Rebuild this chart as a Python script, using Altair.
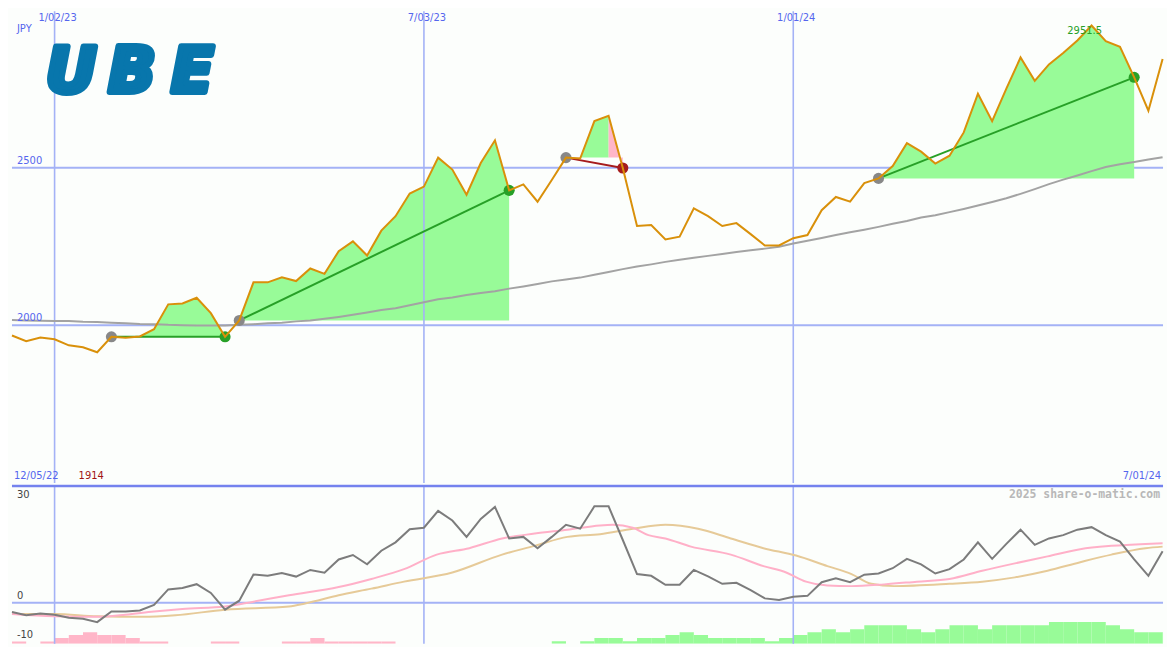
import altair as alt
import pandas as pd

# ---------------- data (weekly, week 0 = 12/12/22 ... week 81 = 7/01/24) ----------------
start_label = "12/05/22"
end_label = "7/01/24"
grid_weeks = [3, 29, 55]
grid_labels = ["1/02/23", "7/03/23", "1/01/24"]
price_grid = [2000, 2500]
price_grid_labels = ["2000", "2500"]
max_label = "2951.5"
min_label = "1914"

price = [1967, 1949, 1961, 1955, 1936, 1930, 1914, 1963, 1960, 1964,
         1987, 2066, 2069, 2087, 2038, 1963, 2015, 2136, 2136, 2152,
         2140, 2180, 2163, 2235, 2266, 2221, 2300, 2346, 2418, 2440,
         2532, 2494, 2414, 2515, 2587, 2428, 2447, 2392, 2461, 2532,
         2529, 2648, 2665, 2499, 2315, 2318, 2272, 2281, 2371, 2346,
         2315, 2324, 2289, 2253, 2253, 2276, 2286, 2365, 2407, 2392,
         2451, 2466, 2505, 2578, 2551, 2513, 2538, 2612, 2735, 2648,
         2751, 2850, 2776, 2828, 2864, 2904, 2951.5, 2902, 2884, 2787,
         2681, 2845]

ma = [2016, 2015, 2014, 2013, 2013, 2011, 2010, 2008, 2006, 2004,
      2003, 2001, 2000, 1999, 1999, 1999, 2001, 2003, 2006, 2008,
      2012, 2015, 2020, 2026, 2033, 2040, 2048, 2054, 2063, 2073,
      2082, 2088, 2096, 2102, 2108, 2116, 2123, 2131, 2139, 2145,
      2151, 2160, 2169, 2178, 2186, 2193, 2201, 2208, 2214, 2220,
      2226, 2232, 2238, 2243, 2249, 2259, 2268, 2277, 2286, 2295,
      2303, 2312, 2322, 2331, 2342, 2349, 2359, 2369, 2380, 2391,
      2403, 2417, 2432, 2448, 2462, 2475, 2489, 2502, 2511, 2518,
      2526, 2533]

mom = [-2.4, -3.25, -2.8, -3.1, -3.9, -4.15, -5.0, -2.25, -2.25, -2.0,
       -0.6, 3.4, 3.75, 4.75, 2.5, -1.8, 0.5, 7.25, 6.9, 7.6,
       6.7, 8.4, 7.7, 11.1, 12.25, 9.85, 13.35, 15.5, 18.85, 19.25,
       23.6, 21.1, 16.9, 21.5, 24.6, 16.5, 16.9, 14.0, 16.9, 20.0,
       19.0, 24.75, 24.75, 16.1, 7.35, 6.9, 4.6, 4.6, 8.4, 6.75,
       4.85, 5.1, 3.2, 1.1, 0.7, 1.5, 1.75, 5.25, 6.25, 5.25,
       7.2, 7.5, 8.85, 11.25, 9.85, 7.5, 8.6, 11.1, 15.5, 11.25,
       15.1, 18.75, 14.85, 16.5, 17.35, 18.75, 19.4, 17.35, 15.7, 11.1,
       6.9, 13.2]

pink_w = [0, 3, 6, 8, 10, 12, 15, 17, 19.5, 23, 25.3, 27.6, 29.9, 32.2, 34.5, 36.8,
          39.1, 41.4, 42.3, 43.7, 44.8, 46, 47.8, 50.6, 52.9, 54.5, 55.9, 57.4, 59.1,
          61.4, 63.7, 66, 68.3, 70.6, 72.9, 75.2, 77.4, 79.8, 81]
pink_v = [-2.9, -3.5, -3.65, -3.1, -2.25, -1.6, -1.0, 0.25, 1.9, 4.0, 6.1, 8.6, 12.35, 14.0,
          16.5, 17.75, 18.75, 19.85, 20.0, 19.25, 17.35, 16.5, 14.4, 12.35, 9.4, 7.75, 5.4,
          4.4, 4.25, 4.7, 5.4, 6.1, 8.2, 10.1, 11.9, 13.75, 14.6, 15.1, 15.25]

tan_w = [0, 3, 6, 9.2, 11.5, 15, 19.5, 20.7, 23, 25.3, 27.6, 31, 34.5, 36.8, 39.1, 41.4,
         43.7, 46, 48.3, 50.6, 52.9, 55.2, 57.4, 59.1, 60.5, 62.1, 66, 68.3, 70.6, 72.9,
         75.2, 77.4, 79.8, 81]
tan_v = [-2.9, -2.9, -3.5, -3.65, -3.25, -1.8, -1.0, -0.15, 1.9, 3.6, 5.4, 7.75, 12.35, 14.6,
         16.9, 17.6, 19.0, 20.0, 19.0, 16.5, 14.0, 12.1, 9.4, 7.35, 4.85, 4.25, 4.85, 5.4,
         6.5, 8.2, 10.4, 12.35, 14.0, 14.4]

# strength bars at the foot of the lower panel (negative = pink, positive = green)
bars = [-2.3, 0, -2.3, -6, -9, -12, -9, -9, -6, -2.3,
        -2.3, 0, 0, 0, -2.3, -2.3, 0, 0, 0, -2.3,
        -2.3, -6, -2.3, -2.3, -2.3, -2.3, -2.3, 0, 0, 0,
        0, 0, 0, 0, 0, 0, 0, 0, 2.7, 0,
        2.7, 6, 6, 2.7, 6, 6, 9, 12, 9, 6,
        6, 6, 6, 2.7, 6, 9, 12, 15, 12, 15,
        19, 19, 19, 15, 12, 15, 19, 19, 15, 19,
        19, 19, 19, 22.3, 22.3, 22.3, 22.3, 19, 15, 12,
        12, 12]

trade_entry = [7, 16, 39, 61]
trade_exit = [15, 35, 43, 79]
trade_result = ["win", "win", "loss", "win"]
# fill segments: (from week, to week, colour kind, trade)
fill_segments = [(7, 15, "g", 0), (16, 35, "g", 1), (39, 40, "p", 2),
                 (40, 42, "g", 2), (42, 43, "p", 2), (61, 79, "g", 3)]

logo_letters = ["U", "B", "E"]

# ---------------- styling ----------------
W, H1, H2 = 1159, 475, 159
BG = "#fcfefc"
GRID = "#a4b2f6"
BORDER = "#7482ee"
LBL = "#5566ee"
PRICE = "#d9900a"
MA = "#a3a3a3"
GFILL = "#98fb98"
PFILL = "#ffb6c8"
GLINE = "#27a027"
RLINE = "#a61c1c"
LOGO = "#0876ac"
FONT = "DejaVu Sans"
KIND_COL = {"g": GFILL, "p": PFILL, "win": GLINE, "loss": RLINE, "entry": "#888888",
            "neg": PFILL, "pos": GFILL}

weeks = list(range(len(price)))
df = pd.DataFrame({"week": weeks, "price": price, "ma": ma, "mom": mom})

xs = alt.Scale(domain=[0, 81.03], nice=False, zero=False)
ys = alt.Scale(domain=[1499, 2997], nice=False, zero=False)
X = alt.X("week:Q", scale=xs, axis=None)

# fills
fill_layers = []
for k, (a, b, kind, t) in enumerate(fill_segments):
    base_p = price[trade_entry[t]]
    seg = pd.DataFrame({
        "week": list(range(a, b + 1)),
        "top": [max(price[w], base_p) if kind == "g" else price[w] for w in range(a, b + 1)],
        "base": [base_p] * (b - a + 1),
    })
    fill_layers.append(alt.Chart(seg).mark_area(
        interpolate="linear", opacity=1, color=KIND_COL[kind]).encode(
        x=X, y=alt.Y("top:Q", scale=ys, axis=None), y2="base:Q"))

tl_rows, dot_rows = [], []
for t in range(len(trade_entry)):
    e, x_ = trade_entry[t], trade_exit[t]
    c = KIND_COL[trade_result[t]]
    tl_rows.append({"week": e, "p": price[e], "trade": t, "col": c})
    tl_rows.append({"week": x_, "p": price[x_], "trade": t, "col": c})
    dot_rows.append({"week": e, "p": price[e], "col": KIND_COL["entry"]})
    dot_rows.append({"week": x_, "p": price[x_], "col": c})
tl_df = pd.DataFrame(tl_rows)
dot_df = pd.DataFrame(dot_rows)

hgrid_df = pd.DataFrame({"p": price_grid, "lab": price_grid_labels})
hgrid = alt.Chart(hgrid_df).mark_rule(color=GRID, strokeWidth=2).encode(
    y=alt.Y("p:Q", scale=ys, axis=None))
hgrid_lbl = alt.Chart(hgrid_df).mark_text(
    align="left", baseline="bottom", dy=-2, font=FONT, fontSize=10, color=LBL).encode(
    x=alt.value(5), y=alt.Y("p:Q", scale=ys, axis=None), text="lab:N")
vgrid_df = pd.DataFrame({"week": grid_weeks, "lab": grid_labels})
vgrid = alt.Chart(vgrid_df).mark_rule(color=GRID, strokeWidth=1.6).encode(x=X)
vgrid_lbl = alt.Chart(vgrid_df).mark_text(
    align="center", baseline="top", dx=3, font=FONT, fontSize=10, color=LBL).encode(
    x=X, y=alt.value(2), text="lab:N")

ma_line = alt.Chart(df).mark_line(color=MA, strokeWidth=2).encode(
    x=X, y=alt.Y("ma:Q", scale=ys, axis=None))

trade_lines = alt.Chart(tl_df).mark_line(strokeWidth=2).encode(
    x=X, y=alt.Y("p:Q", scale=ys, axis=None), detail="trade:N",
    color=alt.Color("col:N", scale=None))

dots = alt.Chart(dot_df).mark_circle(size=125, opacity=1).encode(
    x=X, y=alt.Y("p:Q", scale=ys, axis=None), color=alt.Color("col:N", scale=None))

price_line = alt.Chart(df).mark_line(color=PRICE, strokeWidth=2).encode(
    x=X, y=alt.Y("price:Q", scale=ys, axis=None))

imax = price.index(max(price))
imin = price.index(min(price))
max_lbl = alt.Chart(pd.DataFrame({"week": [imax], "p": [price[imax]], "t": [max_label]})).mark_text(
    align="center", baseline="top", dx=-7, dy=1, font=FONT, fontSize=10, color=GLINE).encode(
    x=X, y=alt.Y("p:Q", scale=ys, axis=None), text="t:N")

jpy = alt.Chart(pd.DataFrame({"t": ["JPY"]})).mark_text(
    align="left", baseline="top", font=FONT, fontSize=10, color=LBL).encode(
    x=alt.value(5), y=alt.value(13), text="t:N")

bot_lbls = alt.Chart(pd.DataFrame({"t": [start_label]})).mark_text(
    align="left", baseline="bottom", font=FONT, fontSize=10, color=LBL).encode(
    x=alt.value(2), y=alt.value(H1 - 2), text="t:N")
end_lbl = alt.Chart(pd.DataFrame({"t": [end_label]})).mark_text(
    align="right", baseline="bottom", font=FONT, fontSize=10, color=LBL).encode(
    x=alt.value(W - 2), y=alt.value(H1 - 2), text="t:N")
min_lbl = alt.Chart(pd.DataFrame({"week": [imin], "t": [min_label]})).mark_text(
    align="center", baseline="bottom", dx=-6, font=FONT, fontSize=10, color="#a01414").encode(
    x=X, y=alt.value(H1 - 2), text="t:N")

# logo: heavy italic letters (a thick outline in the fill colour makes them bolder)
logo_layers = []
logo_x = {"U": 34, "B": 97, "E": 160}
for letter in logo_letters:
    logo_layers.append(alt.Chart(pd.DataFrame({"t": [letter]})).mark_text(
        align="left", baseline="alphabetic", font=FONT, fontSize=63, fontWeight="bold",
        fontStyle="italic", color=LOGO, stroke=LOGO, strokeWidth=6,
        strokeJoin="round").encode(
        x=alt.value(logo_x[letter]), y=alt.value(81), text="t:N"))

top = alt.layer(hgrid, *fill_layers, vgrid, ma_line, trade_lines, dots, price_line,
                hgrid_lbl, vgrid_lbl, max_lbl, jpy, bot_lbls, end_lbl, min_lbl,
                *logo_layers).properties(width=W, height=H1)

# ---------------- lower panel ----------------
ys2 = alt.Scale(domain=[-10.575, 30], nice=False, zero=False)
bar_df = pd.DataFrame({"week": weeks, "end": [w + 1 for w in weeks],
                       "h": [abs(b) for b in bars],
                       "col": [KIND_COL["neg"] if b < 0 else KIND_COL["pos"] for b in bars]})
bar_df = bar_df[bar_df["h"] > 0]
bar_layer = alt.Chart(bar_df).mark_rect(clip=True).encode(
    x=X, x2="end:Q",
    y=alt.Y("h:Q", scale=alt.Scale(domain=[0, 162.3], nice=False, zero=False), axis=None),
    y2=alt.datum(0),
    color=alt.Color("col:N", scale=None))

zero = alt.Chart(pd.DataFrame({"v": [0]})).mark_rule(color=GRID, strokeWidth=2).encode(
    y=alt.Y("v:Q", scale=ys2, axis=None))
vgrid2 = alt.Chart(vgrid_df).mark_rule(color=GRID, strokeWidth=1.6).encode(x=X)
border = alt.Chart(pd.DataFrame({"v": [30]})).mark_rule(color=BORDER, strokeWidth=2.5).encode(
    y=alt.Y("v:Q", scale=ys2, axis=None))

tan_line = alt.Chart(pd.DataFrame({"week": tan_w, "v": tan_v})).mark_line(
    color="#e6ca98", strokeWidth=2, interpolate="monotone").encode(x=X, y=alt.Y("v:Q", scale=ys2, axis=None))
pink_line = alt.Chart(pd.DataFrame({"week": pink_w, "v": pink_v})).mark_line(
    color="#ffb0c8", strokeWidth=2, interpolate="monotone").encode(x=X, y=alt.Y("v:Q", scale=ys2, axis=None))
mom_line = alt.Chart(df).mark_line(color="#7c7c7c", strokeWidth=2).encode(
    x=X, y=alt.Y("mom:Q", scale=ys2, axis=None))

ylab_df = pd.DataFrame({"v": [30, 0, -10], "t": ["30", "0", "-10"]})
ylab_top = alt.Chart(ylab_df[ylab_df.v == 30]).mark_text(
    align="left", baseline="top", dy=4, font=FONT, fontSize=10, color="#444444").encode(
    x=alt.value(5), y=alt.Y("v:Q", scale=ys2, axis=None), text="t:N")
ylab_rest = alt.Chart(ylab_df[ylab_df.v < 30]).mark_text(
    align="left", baseline="bottom", dy=-2, font=FONT, fontSize=10, color="#444444").encode(
    x=alt.value(5), y=alt.Y("v:Q", scale=ys2, axis=None), text="t:N")
credit = alt.Chart(pd.DataFrame({"t": ["2025 share-o-matic.com"]})).mark_text(
    align="right", baseline="top", font="DejaVu Sans Mono", fontSize=11.5, fontWeight="bold",
    color="#b8b8b8").encode(x=alt.value(W - 3), y=alt.value(3), text="t:N")

bottom = alt.layer(bar_layer, zero, vgrid2, tan_line, pink_line, mom_line, border,
                   ylab_top, ylab_rest, credit).resolve_scale(y="independent").properties(
    width=W, height=H2)

chart = alt.vconcat(top, bottom, spacing=0).properties(
    padding=0, background=BG).configure_view(stroke=None)

chart.save("out.html", embed_options={"renderer": "svg", "actions": False})
